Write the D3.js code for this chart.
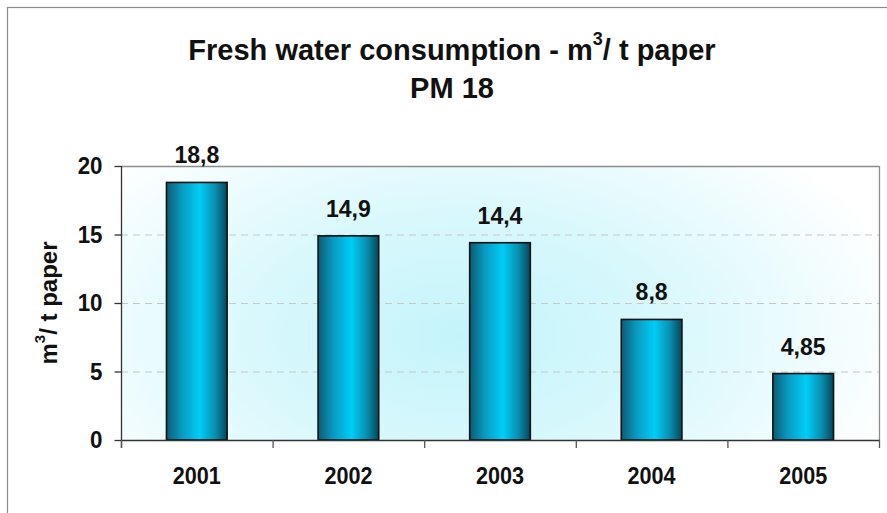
<!DOCTYPE html>
<html>
<head>
<meta charset="utf-8">
<script src="https://cdn.jsdelivr.net/npm/d3@7"></script>
<style>
  html, body { margin: 0; padding: 0; background: #fff; }
  svg { display: block; font-family: "Liberation Sans", Arial, sans-serif; }
</style>
</head>
<body>
<svg id="chart" width="887" height="513"></svg>
<script>
// ---- data ----
const years = ["2001", "2002", "2003", "2004", "2005"];
const values = [18.8, 14.9, 14.4, 8.8, 4.85];
const valueLabels = ["18,8", "14,9", "14,4", "8,8", "4,85"];
const yTicks = [0, 5, 10, 15, 20];
const titleLine1 = ["Fresh water consumption - m", "3", "/ t paper"];
const titleLine2 = "PM 18";
const yTitle = ["m", "3", "/ t paper"];

// ---- layout ----
const W = 887, H = 513;
const plot = { left: 121, right: 879, top: 166, bottom: 440 };
const SX = 0.93; // slight horizontal condensing of labels

const svg = d3.select("#chart");
const defs = svg.append("defs");

// background gradient for plot area
const bg = defs.append("radialGradient").attr("id", "bgGrad")
  .attr("cx", 0.45).attr("cy", 0.62).attr("r", 0.6)
  .attr("gradientTransform", "translate(0.45,0.62) scale(1,1.6) translate(-0.45,-0.62)");
bg.append("stop").attr("offset", "0%").attr("stop-color", "#c4f4fb");
bg.append("stop").attr("offset", "45%").attr("stop-color", "#d8f8fc");
bg.append("stop").attr("offset", "100%").attr("stop-color", "#ffffff");

// bar gradient
const bar = defs.append("linearGradient").attr("id", "barGrad")
  .attr("x1", 0).attr("x2", 1).attr("y1", 0).attr("y2", 0);
bar.append("stop").attr("offset", "0%").attr("stop-color", "#0b5c74");
bar.append("stop").attr("offset", "25%").attr("stop-color", "#0a9ac0");
bar.append("stop").attr("offset", "55%").attr("stop-color", "#00cdf6");
bar.append("stop").attr("offset", "80%").attr("stop-color", "#0a8fb0");
bar.append("stop").attr("offset", "100%").attr("stop-color", "#03475a");

// outer chart border
svg.append("rect").attr("x", 7.5).attr("y", 7.5).attr("width", W).attr("height", H)
  .attr("fill", "#fff").attr("stroke", "#8c8c8c").attr("stroke-width", 1.2);

// scales
const x = d3.scaleBand().domain(years).range([plot.left, plot.right])
  .paddingInner(0.6).paddingOuter(0.3);
const y = d3.scaleLinear().domain([0, 20]).range([plot.bottom, plot.top]);
const xEdge = d3.scaleLinear().domain([0, years.length]).range([plot.left, plot.right]);

// plot background
svg.append("rect").attr("x", plot.left).attr("y", plot.top)
  .attr("width", plot.right - plot.left).attr("height", plot.bottom - plot.top)
  .attr("fill", "url(#bgGrad)");

// gridlines (dashed)
svg.append("g").selectAll("line").data(yTicks.filter(d => d > 0 && d < 20)).join("line")
  .attr("x1", plot.left).attr("x2", plot.right)
  .attr("y1", d => y(d) + 0.5).attr("y2", d => y(d) + 0.5)
  .attr("stroke", "#c8c8c8").attr("stroke-width", 1.2).attr("stroke-dasharray", "7,5");

// plot border top/right
svg.append("line").attr("x1", plot.left).attr("x2", plot.right)
  .attr("y1", plot.top + 0.5).attr("y2", plot.top + 0.5)
  .attr("stroke", "#8c8c8c").attr("stroke-width", 1.3);
svg.append("line").attr("x1", plot.right + 0.5).attr("x2", plot.right + 0.5)
  .attr("y1", plot.top).attr("y2", plot.bottom)
  .attr("stroke", "#8c8c8c").attr("stroke-width", 1.3);

// bars
svg.append("g").selectAll("rect").data(values).join("rect")
  .attr("x", (d, i) => x(years[i]))
  .attr("y", d => y(d))
  .attr("width", x.bandwidth())
  .attr("height", d => y(0) - y(d))
  .attr("fill", "url(#barGrad)")
  .attr("stroke", "#111").attr("stroke-width", 1.6);

// value labels
svg.append("g").selectAll("text").data(values).join("text")
  .attr("transform", (d, i) => `translate(${x(years[i]) + x.bandwidth() / 2},${y(d) - 19}) scale(0.96,1)`)
  .attr("text-anchor", "middle")
  .attr("font-size", 24).attr("font-weight", "bold").attr("fill", "#111")
  .text((d, i) => valueLabels[i]);

// y axis
const yAxis = svg.append("g").attr("transform", `translate(${plot.left + 0.5},0)`)
  .call(d3.axisLeft(y).tickValues(yTicks).tickSize(7).tickPadding(12).tickFormat(d3.format("d")));
yAxis.select(".domain").attr("stroke", "#333").attr("stroke-width", 1.3)
  .attr("d", `M0,${plot.top}V${plot.bottom + 8}`);
yAxis.selectAll(".tick line").attr("stroke", "#333").attr("stroke-width", 1.3);
yAxis.selectAll(".tick text").attr("font-size", 24).attr("font-weight", "bold")
  .attr("fill", "#111").attr("font-family", "Liberation Sans, Arial, sans-serif")
  .attr("x", -19 / SX).attr("transform", `scale(${SX},1)`);

// x axis
svg.append("line").attr("x1", plot.left).attr("x2", plot.right + 1)
  .attr("y1", plot.bottom + 0.5).attr("y2", plot.bottom + 0.5)
  .attr("stroke", "#333").attr("stroke-width", 1.3);
svg.append("g").selectAll("line").data(d3.range(years.length + 1)).join("line")
  .attr("x1", d => xEdge(d) + 0.5).attr("x2", d => xEdge(d) + 0.5)
  .attr("y1", plot.bottom).attr("y2", plot.bottom + 8)
  .attr("stroke", "#555").attr("stroke-width", 1.3);
svg.append("g").selectAll("text").data(years).join("text")
  .attr("transform", d => `translate(${x(d) + x.bandwidth() / 2},484) scale(0.9,1)`)
  .attr("text-anchor", "middle")
  .attr("font-size", 24).attr("font-weight", "bold").attr("fill", "#111")
  .text(d => d);

// title
const t1 = svg.append("text").attr("x", 452).attr("y", 60).attr("text-anchor", "middle")
  .attr("font-size", 29).attr("font-weight", "bold").attr("fill", "#111");
t1.append("tspan").text(titleLine1[0]);
t1.append("tspan").attr("dy", -15).attr("font-size", 18).text(titleLine1[1]);
t1.append("tspan").attr("dy", 15).text(titleLine1[2]);
svg.append("text").attr("x", 452).attr("y", 98).attr("text-anchor", "middle")
  .attr("font-size", 29).attr("font-weight", "bold").attr("fill", "#111").text(titleLine2);

// y axis title
const yt = svg.append("text").attr("transform", "translate(57,303) rotate(-90)")
  .attr("text-anchor", "middle")
  .attr("font-size", 24).attr("font-weight", "bold").attr("fill", "#111");
yt.append("tspan").text(yTitle[0]);
yt.append("tspan").attr("dy", -12).attr("font-size", 15).text(yTitle[1]);
yt.append("tspan").attr("dy", 12).text(yTitle[2]);
</script>
</body>
</html>
